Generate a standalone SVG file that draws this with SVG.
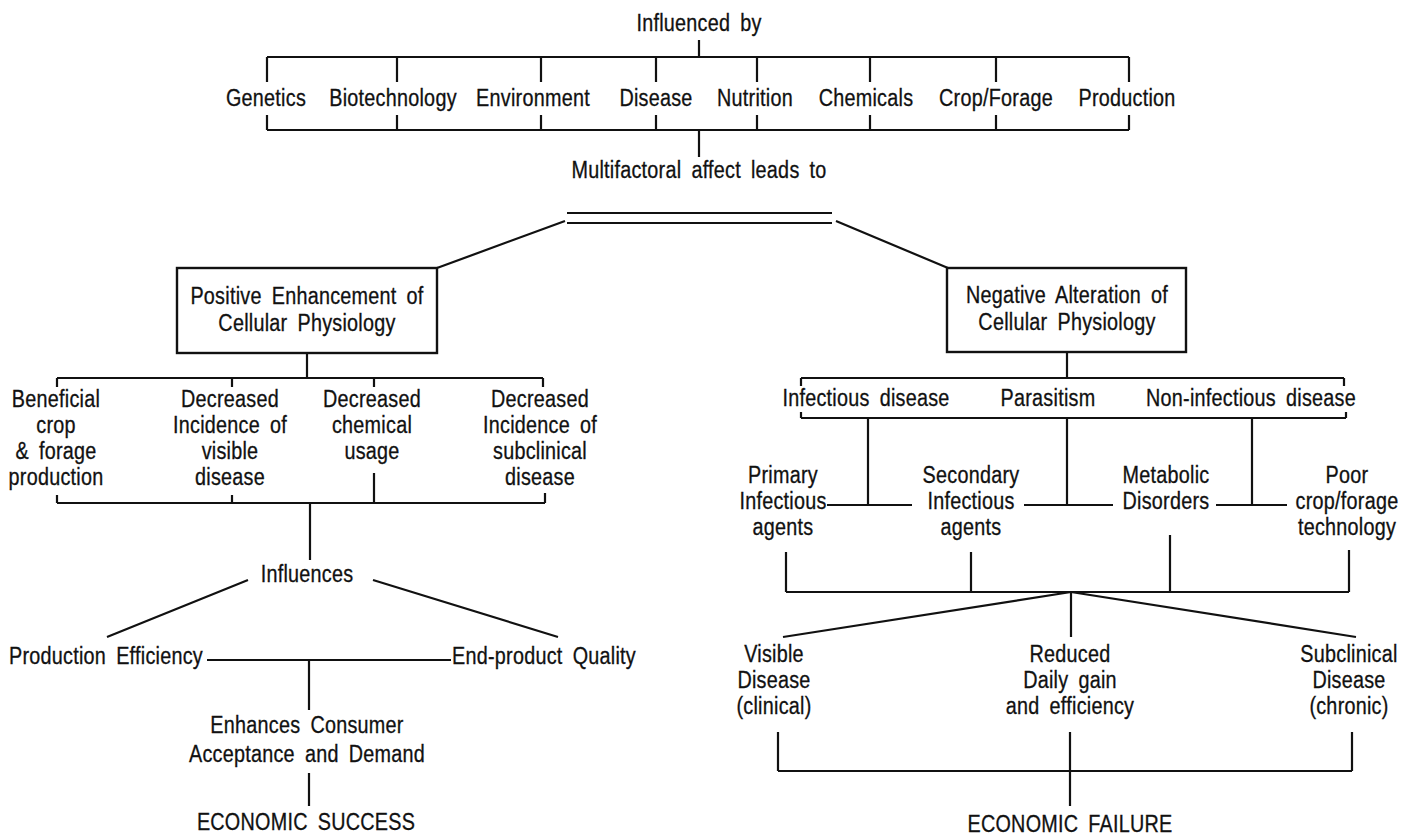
<svg xmlns="http://www.w3.org/2000/svg" width="1407" height="836" viewBox="0 0 1407 836">
<style>
.t{font-family:"Liberation Sans",Arial,sans-serif;font-size:23px;fill:#111;stroke:#111;stroke-width:0.3;text-anchor:middle;word-spacing:5px;letter-spacing:0.3px}
.l{stroke:#111;stroke-width:2.2;fill:none}
.box{stroke:#111;stroke-width:2.4;fill:none}
</style>
<rect width="1407" height="836" fill="#fff"/>
<g id="connectors" class="l">
<path d="M699 40V57M267 57H1129M267 130H1129"/>
<path d="M267 57V82M397 57V82M541 57V82M656 57V82M757 57V82M870 57V82M996 57V82M1129 57V82"/>
<path d="M267 115V130M397 115V130M541 115V130M656 115V130M757 115V130M870 115V130M996 115V130M1129 115V130"/>
<path d="M699 130V157"/>
<path d="M567 213H832M567 223H832"/>
<path d="M565 221L437 268M836 221L948 268"/>
<path d="M307 353V378M57 378H543M57 378V387M232 378V387M374 378V387M543 378V387"/>
<path d="M57 503H545M57 495V503M232 495V503M374 473V503M545 493V503M310 503V560"/>
<path d="M248 580L107 637M373 580L558 637"/>
<path d="M207 660H451M309 660V710M309 773V806"/>
<path d="M1067 352V378M801 378H1344M801 378V386M1344 378V386"/>
<path d="M801 418H1346M801 412V418M1346 412V418"/>
<path d="M868 418V505M1067 418V505M1252 418V505"/>
<path d="M827 505H912M1024 505H1113M1216 505H1287"/>
<path d="M786 552V592M971 552V592M1170 535V592M1349 550V592M786 592H1349"/>
<path d="M1071 592L783 637M1071 592L1356 637M1071 592V637"/>
<path d="M778 732V771M1352 732V771M778 771H1352M1070 732V806"/>
</g>
<g id="influenced-by"><text class="t" transform="matrix(.86 0 0 1 699 31)">Influenced by</text></g>
<g id="factors">
<text class="t" transform="matrix(.86 0 0 1 266 106)">Genetics</text>
<text class="t" transform="matrix(.86 0 0 1 393 106)">Biotechnology</text>
<text class="t" transform="matrix(.86 0 0 1 533 106)">Environment</text>
<text class="t" transform="matrix(.86 0 0 1 656 106)">Disease</text>
<text class="t" transform="matrix(.86 0 0 1 755 106)">Nutrition</text>
<text class="t" transform="matrix(.86 0 0 1 866 106)">Chemicals</text>
<text class="t" transform="matrix(.86 0 0 1 996 106)">Crop/Forage</text>
<text class="t" transform="matrix(.86 0 0 1 1127 106)">Production</text>
</g>
<g id="multifactoral"><text class="t" transform="matrix(.86 0 0 1 699 178)">Multifactoral affect leads to</text></g>
<g id="positive">
<rect class="box" x="177" y="268" width="260" height="85"/>
<text class="t" transform="matrix(.86 0 0 1 307 304)"><tspan x="0">Positive Enhancement of</tspan><tspan x="0" dy="27">Cellular Physiology</tspan></text>
</g>
<g id="negative">
<rect class="box" x="947" y="268" width="239" height="84"/>
<text class="t" transform="matrix(.86 0 0 1 1067 303)"><tspan x="0">Negative Alteration of</tspan><tspan x="0" dy="27">Cellular Physiology</tspan></text>
</g>
<g id="beneficial"><text class="t" transform="matrix(.86 0 0 1 56 407)"><tspan x="0">Beneficial</tspan><tspan x="0" dy="26">crop</tspan><tspan x="0" dy="26">&amp; forage</tspan><tspan x="0" dy="26">production</tspan></text></g>
<g id="dec-visible"><text class="t" transform="matrix(.86 0 0 1 230 407)"><tspan x="0">Decreased</tspan><tspan x="0" dy="26">Incidence of</tspan><tspan x="0" dy="26">visible</tspan><tspan x="0" dy="26">disease</tspan></text></g>
<g id="dec-chemical"><text class="t" transform="matrix(.86 0 0 1 372 407)"><tspan x="0">Decreased</tspan><tspan x="0" dy="26">chemical</tspan><tspan x="0" dy="26">usage</tspan></text></g>
<g id="dec-subclinical"><text class="t" transform="matrix(.86 0 0 1 540 407)"><tspan x="0">Decreased</tspan><tspan x="0" dy="26">Incidence of</tspan><tspan x="0" dy="26">subclinical</tspan><tspan x="0" dy="26">disease</tspan></text></g>
<g id="influences"><text class="t" transform="matrix(.86 0 0 1 307 582)">Influences</text></g>
<g id="prod-eff"><text class="t" transform="matrix(.86 0 0 1 106 664)">Production Efficiency</text></g>
<g id="end-product"><text class="t" transform="matrix(.86 0 0 1 544 664)">End-product Quality</text></g>
<g id="enhances"><text class="t" transform="matrix(.86 0 0 1 307 733)"><tspan x="0">Enhances Consumer</tspan><tspan x="0" dy="29">Acceptance and Demand</tspan></text></g>
<g id="success"><text class="t" transform="matrix(.86 0 0 1 306 830)">ECONOMIC SUCCESS</text></g>
<g id="infectious"><text class="t" transform="matrix(.86 0 0 1 866 406)">Infectious disease</text></g>
<g id="parasitism"><text class="t" transform="matrix(.86 0 0 1 1048 406)">Parasitism</text></g>
<g id="noninfectious"><text class="t" transform="matrix(.86 0 0 1 1251 406)">Non-infectious disease</text></g>
<g id="primary"><text class="t" transform="matrix(.86 0 0 1 783 483)"><tspan x="0">Primary</tspan><tspan x="0" dy="26">Infectious</tspan><tspan x="0" dy="26">agents</tspan></text></g>
<g id="secondary"><text class="t" transform="matrix(.86 0 0 1 971 483)"><tspan x="0">Secondary</tspan><tspan x="0" dy="26">Infectious</tspan><tspan x="0" dy="26">agents</tspan></text></g>
<g id="metabolic"><text class="t" transform="matrix(.86 0 0 1 1166 483)"><tspan x="0">Metabolic</tspan><tspan x="0" dy="26">Disorders</tspan></text></g>
<g id="poor"><text class="t" transform="matrix(.86 0 0 1 1347 483)"><tspan x="0">Poor</tspan><tspan x="0" dy="26">crop/forage</tspan><tspan x="0" dy="26">technology</tspan></text></g>
<g id="visible"><text class="t" transform="matrix(.86 0 0 1 774 662)"><tspan x="0">Visible</tspan><tspan x="0" dy="26">Disease</tspan><tspan x="0" dy="26">(clinical)</tspan></text></g>
<g id="reduced"><text class="t" transform="matrix(.86 0 0 1 1070 662)"><tspan x="0">Reduced</tspan><tspan x="0" dy="26">Daily gain</tspan><tspan x="0" dy="26">and efficiency</tspan></text></g>
<g id="subclinical"><text class="t" transform="matrix(.86 0 0 1 1349 662)"><tspan x="0">Subclinical</tspan><tspan x="0" dy="26">Disease</tspan><tspan x="0" dy="26">(chronic)</tspan></text></g>
<g id="failure"><text class="t" transform="matrix(.86 0 0 1 1070 832)">ECONOMIC FAILURE</text></g>
</svg>
